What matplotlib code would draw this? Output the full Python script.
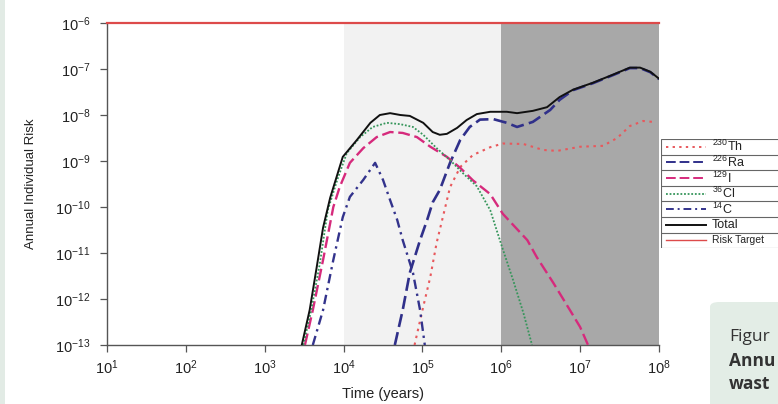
import numpy as np
import matplotlib
matplotlib.use("Agg")
import matplotlib.pyplot as plt
from matplotlib.patches import FancyBboxPatch, Rectangle
from matplotlib.lines import Line2D

plt.rcParams['font.family'] = ['Liberation Sans', 'DejaVu Sans']
plt.rcParams['mathtext.fontset'] = 'custom'
plt.rcParams['mathtext.rm'] = 'Liberation Sans'
plt.rcParams['mathtext.it'] = 'Liberation Sans'

# ---- data (log10 of time in years, log10 of annual individual risk) ----
total_logt = [3.47, 3.57, 3.66, 3.74, 3.83, 3.99, 4.17, 4.34, 4.46, 4.59, 4.72, 4.84, 5.01, 5.13, 5.22, 5.31,
              5.44, 5.56, 5.69, 5.86, 6.07, 6.20, 6.40, 6.58, 6.74, 6.91, 7.16, 7.42, 7.63, 7.76, 7.89, 8.00]
total_logr = [-13.0, -12.24, -11.30, -10.45, -9.80, -8.91, -8.54, -8.17, -8.00, -7.96, -8.00, -8.02, -8.17, -8.37, -8.43, -8.41,
              -8.28, -8.11, -7.98, -7.93, -7.93, -7.96, -7.91, -7.83, -7.61, -7.45, -7.30, -7.12, -6.97, -6.97, -7.06, -7.21]

ra226_logt = [4.65, 4.75, 4.84, 4.97, 5.06, 5.13, 5.22, 5.35, 5.48, 5.60, 5.73, 5.90, 6.07, 6.20, 6.40, 6.62,
              6.74, 6.91, 7.16, 7.42, 7.63, 7.76, 7.89, 8.00]
ra226_logr = [-13.0, -12.24, -11.43, -10.72, -10.28, -9.90, -9.63, -9.04, -8.54, -8.26, -8.10, -8.09, -8.17, -8.26, -8.15, -7.89,
              -7.67, -7.46, -7.31, -7.13, -6.98, -6.98, -7.07, -7.22]

th230_logt = [4.90, 5.01, 5.10, 5.18, 5.29, 5.35, 5.48, 5.64, 5.86, 6.02, 6.28, 6.53, 6.71, 7.00, 7.29, 7.47,
              7.63, 7.80, 7.92]
th230_logr = [-13.0, -12.17, -11.52, -10.78, -10.00, -9.57, -9.13, -8.87, -8.70, -8.62, -8.63, -8.76, -8.78, -8.69, -8.67, -8.50,
              -8.24, -8.13, -8.15]

i129_logt = [3.51, 3.61, 3.74, 3.87, 3.95, 4.08, 4.25, 4.42, 4.59, 4.75, 4.93, 5.10, 5.31, 5.48, 5.64, 5.86,
             6.02, 6.33, 6.45, 6.66, 6.87, 7.00, 7.10]
i129_logr = [-13.0, -12.24, -11.15, -10.00, -9.57, -9.04, -8.72, -8.48, -8.37, -8.39, -8.48, -8.69, -8.91, -9.15, -9.42, -9.72,
             -10.15, -10.72, -11.09, -11.65, -12.24, -12.61, -13.0]

cl36_logt = [3.49, 3.59, 3.70, 3.80, 3.92, 4.04, 4.21, 4.37, 4.55, 4.72, 4.88, 5.01, 5.18, 5.35, 5.51, 5.69,
             5.86, 6.01, 6.15, 6.28, 6.39]
cl36_logr = [-13.0, -12.24, -11.22, -10.07, -9.41, -8.83, -8.48, -8.26, -8.17, -8.20, -8.26, -8.43, -8.72, -8.98, -9.26, -9.55,
             -10.07, -10.87, -11.59, -12.30, -13.0]

c14_logt = [3.61, 3.74, 3.87, 3.99, 4.08, 4.25, 4.40, 4.50, 4.59, 4.68, 4.75, 4.88, 4.97, 5.03]
c14_logr = [-13.0, -12.24, -11.15, -10.22, -9.78, -9.41, -9.04, -9.41, -9.85, -10.28, -10.72, -11.43, -12.24, -13.0]

risk_target = 1e-6
xticks = [1e1, 1e2, 1e3, 1e4, 1e5, 1e6, 1e7, 1e8]
yticks = [1e-13, 1e-12, 1e-11, 1e-10, 1e-9, 1e-8, 1e-7, 1e-6]
legend_labels = [r'$^{230}$Th', r'$^{226}$Ra', r'$^{129}$I', r'$^{36}$Cl', r'$^{14}$C', 'Total', 'Risk Target']

W, H = 778, 404
fig = plt.figure(figsize=(W / 100, H / 100), dpi=100)
fig.patch.set_facecolor('#e2ebe5')

# white card
card = FancyBboxPatch((5 / W, -20 / H), (W + 20) / W, (H + 20 - 4 + 20) / H,
                      boxstyle="round,pad=0,rounding_size=0.012", transform=fig.transFigure,
                      facecolor='white', edgecolor='none', zorder=-5)
fig.patches.append(card)

# caption box
cap = FancyBboxPatch((710 / W, -10 / H), 100 / W, (102 + 10) / H,
                     boxstyle="round,pad=0,rounding_size=0.012", transform=fig.transFigure,
                     facecolor='#e3ede6', edgecolor='none', zorder=-4)
fig.patches.append(cap)
fig.text(729 / W, 1 - 337 / H, 'Figur', fontsize=12.5, family='Open Sans', color='#333333', va='center')
fig.text(729 / W, 1 - 361 / H, 'Annu', fontsize=12.5, family='Open Sans', weight='bold', color='#333333', va='center')
fig.text(729 / W, 1 - 384 / H, 'wast', fontsize=12.5, family='Open Sans', weight='bold', color='#333333', va='center')

ax = fig.add_axes([107 / W, 1 - 345 / H, (659 - 107) / W, (345 - 23) / H])
ax.set_facecolor('none')
ax.set_xscale('log')
ax.set_yscale('log')
ax.set_xlim(1e1, 1e8)
ax.set_ylim(1e-13, 1e-6)

ax.axvspan(1e4, 1e6, color='#f2f2f2', zorder=0, lw=0)
ax.axvspan(1e6, 1e8, color='#a8a8a8', zorder=0, lw=0)

def tv(l):
    return 10.0 ** np.array(l)

styles = [
    (th230_logt, th230_logr, dict(color='#e8585c', ls=(0, (1.2, 2.2)), lw=1.5)),
    (ra226_logt, ra226_logr, dict(color='#30308a', ls=(0, (5, 2)), lw=1.9)),
    (i129_logt, i129_logr, dict(color='#d62a7c', ls=(0, (5, 2)), lw=1.7)),
    (cl36_logt, cl36_logr, dict(color='#35955a', ls=(0, (1, 1)), lw=1.3)),
    (c14_logt, c14_logr, dict(color='#33338c', ls=(0, (4, 2, 1, 2)), lw=1.7)),
    (total_logt, total_logr, dict(color='#111111', ls='-', lw=1.4)),
]
for lt, lr, st in styles:
    ax.plot(tv(lt), tv(lr), zorder=3, solid_joinstyle='round', **st)
ax.axhline(risk_target, color='#dd4a4a', lw=1.6, zorder=4, clip_on=False)

for s in ['top', 'right']:
    ax.spines[s].set_visible(False)
for s in ['left', 'bottom']:
    ax.spines[s].set_color('#555555')
    ax.spines[s].set_linewidth(1.0)
ax.set_xticks(xticks)
ax.set_yticks(yticks)
ax.minorticks_off()
ax.tick_params(axis='both', direction='out', length=5, width=0.9, color='#555555',
               labelsize=10.5, labelcolor='#222222', pad=3)
ax.tick_params(axis='y', pad=7)
ax.tick_params(axis='x', pad=5)
ax.set_xlabel('Time (years)', fontsize=10.5, color='#222222', labelpad=7)
ax.set_ylabel('Annual Individual Risk', fontsize=9.5, color='#222222', labelpad=13)

# table-style legend
lx0, ly_top, row_h = 661, 139, 15.6
nrows = len(legend_labels)
lax = fig.add_axes([lx0 / W, 1 - (ly_top + row_h * nrows) / H, (W + 10 - lx0) / W, row_h * nrows / H])
lax.set_xlim(lx0, W + 10)
lax.set_ylim(ly_top + row_h * nrows, ly_top)
lax.axis('off')
lax.add_patch(Rectangle((lx0, ly_top), W + 10 - lx0, row_h * nrows, facecolor='white',
                        edgecolor='#666666', lw=0.8))
leg_styles = [st for _, _, st in styles] + [dict(color='#dd4a4a', ls='-', lw=1.0)]
for i, (lab, st) in enumerate(zip(legend_labels, leg_styles)):
    yc = ly_top + row_h * (i + 0.5)
    if i > 0:
        lax.plot([lx0, W + 10], [ly_top + row_h * i] * 2, color='#666666', lw=0.8)
    st2 = dict(st)
    st2['lw'] = min(st2['lw'], 1.4)
    lax.add_line(Line2D([666, 706], [yc, yc], **st2))
    fs = 7.5 if lab == 'Risk Target' else 9
    lax.text(712, yc, lab, fontsize=fs, va='center', ha='left', color='#222222')

fig.savefig('out.png', dpi=100, facecolor=fig.get_facecolor())
